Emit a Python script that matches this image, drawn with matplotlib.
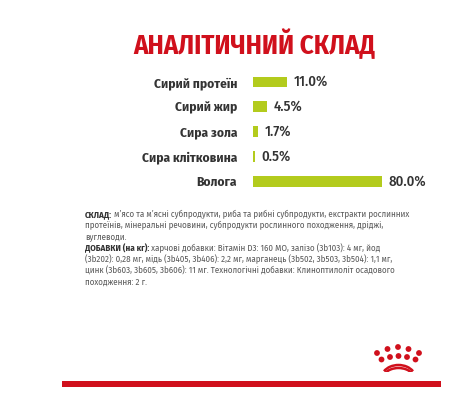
import numpy as np
import matplotlib.pyplot as plt
from matplotlib.patches import Circle, Arc

plt.rcParams['font.family'] = ['Fira Sans Condensed', 'DejaVu Sans']

# дані
title = 'АНАЛІТИЧНИЙ СКЛАД'
categories = ['Сирий протеїн', 'Сирий жир', 'Сира зола', 'Сира клітковина', 'Волога']
values = [11.0, 4.5, 1.7, 0.5, 80.0]
value_labels = ['11.0%', '4.5%', '1.7%', '0.5%', '80.0%']

lines = [
    ('СКЛАД:', ' м’ясо та м’ясні субпродукти, риба та рибні субпродукти, екстракти рослинних'),
    ('', 'протеїнів, мінеральні речовини, субпродукти рослинного походження, дріджі,'),
    ('', 'вуглеводи.'),
    ('ДОБАВКИ (на кг):', ' харчові добавки: Вітамін D3: 160 МО, залізо (3b103): 4 мг, йод'),
    ('', '(3b202): 0,28 мг, мідь (3b405, 3b406): 2,2 мг, марганець (3b502, 3b503, 3b504): 1,1 мг,'),
    ('', 'цинк (3b603, 3b605, 3b606): 11 мг. Технологічні добавки: Клиноптилоліт осадового'),
    ('', 'походження: 2 г.'),
]

RED = '#d0101c'
GREEN = '#b3cb1d'
W, H = 451, 404

fig = plt.figure(figsize=(W / 100, H / 100), dpi=100)
fig.patch.set_facecolor('white')

def px(x0, y0, x1, y1):
    # пікселі (зверху) -> координати фігури
    return [x0 / W, 1 - y1 / H, (x1 - x0) / W, (y1 - y0) / H]

fig.text(254 / W, 1 - 44 / H, title, color=RED, fontsize=19.3, fontweight='bold',
         ha='center', va='center')

# стиснута шкала, як на картинці
def fwd(v):
    v = np.asarray(v, dtype=float)
    return np.where(v <= 11, v * 34 / 11, 34 + (v - 11) * 95 / 69)

def inv(u):
    u = np.asarray(u, dtype=float)
    return np.where(u <= 34, u * 11 / 34, 11 + (u - 34) * 69 / 95)

ax = fig.add_axes(px(253, 69.6, 382, 193.6))
ax.set_xscale('function', functions=(fwd, inv))
y = np.arange(len(categories))
ax.barh(y, values, height=0.44, color=GREEN, left=0)
ax.set_xlim(0, 80)
ax.set_ylim(len(categories) - 0.5, -0.5)
ax.set_yticks(y)
ax.set_yticklabels(categories, fontsize=9.6, fontweight='bold', color='#333333')
ax.tick_params(axis='y', length=0, pad=11.5)
ax.set_xticks([])
ax.xaxis.set_minor_locator(plt.NullLocator())
for s in ax.spines.values():
    s.set_visible(False)
for i, (v, lab) in enumerate(zip(values, value_labels)):
    ax.annotate(lab, (v, i), xytext=(5, 0), textcoords='offset points',
                va='center', ha='left', fontsize=10.5, fontweight='medium',
                color='#333333', clip_on=False)

# текст складу
y0 = 219
for k, (bold, rest) in enumerate(lines):
    yy = 1 - (y0 + k * 11.2) / H
    if bold:
        t = fig.text(85 / W, yy, bold, fontsize=6.4, fontweight='bold', color='#333333',
                     va='bottom', ha='left')
        plt.annotate(rest, xy=(1, 0), xycoords=t, va='bottom', ha='left',
                     fontsize=6.4, color='#5a5a5a', annotation_clip=False)
    else:
        fig.text(85 / W, yy, rest, fontsize=6.4, color='#5a5a5a', va='bottom', ha='left')

# червона лінія внизу
lax = fig.add_axes(px(62, 381, 441, 387))
lax.axis('off')
lax.axhspan(0, 1, color=RED)
lax.set_xlim(0, 1)
lax.set_ylim(0, 1)

# корона
cax = fig.add_axes(px(372, 340, 424, 372))
cax.set_xlim(372, 424)
cax.set_ylim(372, 340)
cax.axis('off')
top_x = [377, 387.5, 398, 408.5, 419]
top_y = [353, 349, 347, 349, 353]
low_x = [381.5, 390, 398.5, 407, 415.5]
low_y = [359.5, 357, 356, 357, 359.5]
for xx, yy in zip(top_x + low_x, top_y + low_y):
    cax.add_patch(Circle((xx, yy), 2.9, color=RED, lw=0))
cax.add_patch(Arc((398.5, 378), 34, 26, theta1=205, theta2=335, color=RED, lw=1.8))
cax.add_patch(Arc((398.5, 381), 34, 26, theta1=210, theta2=330, color=RED, lw=1.8))

fig.savefig('out.png', dpi=100, facecolor='white')
